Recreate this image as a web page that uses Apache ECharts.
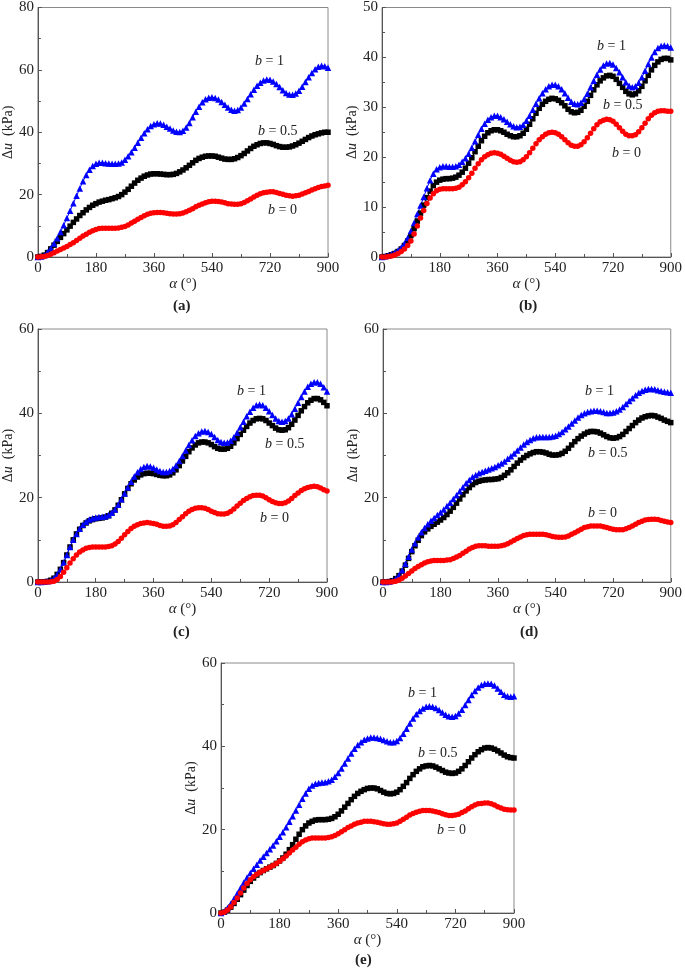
<!DOCTYPE html>
<html>
<head>
<meta charset="utf-8">
<script src="https://cdn.jsdelivr.net/npm/echarts@6/dist/echarts.min.js"></script>
<style>html,body{margin:0;padding:0;background:#fff}#c{width:685px;height:970px}</style>
</head>
<body>
<div id="c"></div>
<script>
const alpha = [0,10,20,30,40,50,60,70,80,90,100,110,120,130,140,150,160,170,180,190,200,210,220,230,240,250,260,270,280,290,300,310,320,330,340,350,360,370,380,390,400,410,420,430,440,450,460,470,480,490,500,510,520,530,540,550,560,570,580,590,600,610,620,630,640,650,660,670,680,690,700,710,720,730,740,750,760,770,780,790,800,810,820,830,840,850,860,870,880,890,900];
const xTicks = [0,180,360,540,720,900];

const aBlue = [0,0.2,0.6,1.5,2.8,4.3,6,8,10.2,12.5,
14.8,17.2,19.6,22,24.3,26.3,28,29.2,29.9,30.2,
30.2,30.1,30,29.9,29.9,30,30.3,31.2,32.3,33.6,
35,36.6,38.2,39.7,41,42,42.6,42.9,42.8,42.4,
41.8,41.2,40.6,40.2,40.1,40.5,41.5,43,44.8,46.6,
48.2,49.6,50.6,51.1,51.2,51,50.5,49.7,48.8,47.9,
47.2,46.9,47.1,47.9,49.2,50.7,52.2,53.6,54.9,55.9,
56.6,56.9,56.8,56.3,55.5,54.5,53.5,52.6,52.1,52,
52.4,53.3,54.6,56.1,57.6,59,60.2,61,61.3,61.2,
60.7];
const aBlack = [0,0.2,0.6,1.4,2.6,3.8,5,6.3,7.5,8.7,
9.9,11.1,12.2,13.3,14.2,15.1,15.9,16.6,17.1,17.6,
17.9,18.2,18.4,18.7,19,19.4,20,20.8,21.7,22.7,
23.7,24.6,25.3,25.9,26.3,26.6,26.7,26.7,26.6,26.5,
26.4,26.4,26.5,26.8,27.3,27.9,28.6,29.4,30.2,31,
31.6,32,32.3,32.4,32.4,32.3,32,31.7,31.4,31.3,
31.3,31.5,31.9,32.5,33.2,34,34.8,35.5,36,36.4,
36.6,36.6,36.4,36.1,35.7,35.4,35.2,35.2,35.3,35.6,
36,36.5,37.1,37.7,38.3,38.8,39.2,39.5,39.8,40,
40];
const aRed = [0,0.05,0.2,0.5,0.9,1.4,1.9,2.4,2.9,3.4,
4,4.6,5.3,6,6.7,7.3,7.9,8.4,8.8,9.1,
9.2,9.2,9.2,9.2,9.2,9.3,9.5,9.8,10.3,10.9,
11.5,12.1,12.7,13.2,13.7,14,14.2,14.3,14.3,14.2,
14,13.9,13.8,13.8,13.9,14.1,14.5,15,15.5,16.1,
16.6,17,17.4,17.7,17.9,17.9,17.8,17.6,17.4,17.1,
17,16.9,16.9,17.1,17.5,18,18.6,19.2,19.8,20.3,
20.6,20.8,20.9,20.9,20.7,20.4,20.1,19.8,19.6,19.5,
19.6,19.8,20.2,20.6,21,21.5,21.9,22.3,22.6,22.8,
23];

const bBlue = [0,0.15,0.35,0.6,0.9,1.3,1.9,2.7,3.8,5.2,
6.8,8.6,10.3,12,13.8,15.4,16.7,17.6,18,18.2,
18.2,18.1,18.1,18.2,18.5,19.1,19.8,20.7,21.9,23.2,
24.5,25.7,26.7,27.5,28,28.3,28.3,28,27.6,27.1,
26.6,26.2,26,26.1,26.5,27.3,28.3,29.5,30.7,31.8,
32.8,33.6,34.2,34.5,34.5,34.2,33.6,32.8,31.9,31.1,
30.7,30.6,30.9,31.6,32.7,34,35.3,36.5,37.6,38.4,
38.8,38.9,38.6,37.9,37,36,35,34.3,34,34.2,
34.9,36,37.3,38.7,40,41.1,41.9,42.3,42.4,42.3,
42];
const bBlack = [0,0.1,0.25,0.45,0.7,1.1,1.6,2.3,3.2,4.3,
5.7,7.2,8.8,10.4,11.9,13.2,14.3,15,15.4,15.6,
15.7,15.7,15.8,16,16.4,17,17.8,18.8,19.9,21.1,
22.2,23.3,24.2,24.9,25.3,25.5,25.5,25.3,25,24.6,
24.3,24.1,24.1,24.3,24.8,25.6,26.6,27.7,28.8,29.8,
30.6,31.2,31.6,31.8,31.7,31.4,30.9,30.3,29.6,29.1,
28.9,29,29.4,30.2,31.2,32.4,33.5,34.5,35.3,35.9,
36.3,36.4,36.2,35.6,34.8,34,33.2,32.7,32.5,32.7,
33.3,34.2,35.3,36.4,37.5,38.4,39.1,39.6,39.8,39.8,
39.5];
const bRed = [0,0.02,0.1,0.2,0.4,0.7,1.1,1.6,2.3,3.2,
4.6,6.2,7.8,9.3,10.7,11.8,12.7,13.3,13.6,13.7,
13.7,13.7,13.7,13.8,14,14.5,15.1,15.9,16.8,17.8,
18.7,19.5,20.1,20.5,20.8,20.9,20.8,20.6,20.2,19.8,
19.4,19.1,19,19.1,19.5,20.1,20.9,21.8,22.7,23.5,
24.1,24.6,24.9,25,24.9,24.6,24.1,23.5,22.9,22.4,
22.2,22.2,22.5,23.1,23.9,24.8,25.7,26.5,27.1,27.4,
27.6,27.5,27.2,26.6,25.9,25.2,24.6,24.3,24.3,24.5,
25.1,25.9,26.8,27.7,28.4,28.9,29.2,29.3,29.3,29.2,
29.2];

const cBlue = [0,0,0.05,0.15,0.4,0.9,1.8,3,4.6,6.4,
8.3,10,11.4,12.6,13.6,14.3,14.8,15.1,15.3,15.4,
15.5,15.6,15.9,16.4,17.2,18.3,19.6,21,22.4,23.8,
25,26,26.8,27.3,27.5,27.4,27.1,26.7,26.3,26.1,
26.1,26.3,26.8,27.6,28.7,29.9,31.2,32.5,33.6,34.6,
35.3,35.7,35.8,35.6,35.1,34.4,33.7,33.2,33,33.1,
33.5,34.3,35.4,36.7,38,39.3,40.4,41.3,41.9,42.1,
41.9,41.3,40.5,39.6,38.8,38.2,38,38.2,38.8,39.8,
41.1,42.5,43.9,45.2,46.3,47,47.4,47.4,47,46.2,
45.2];
const cBlack = [0,0,0.05,0.15,0.4,0.9,1.8,3,4.6,6.4,
8.3,10,11.4,12.5,13.4,14,14.5,14.8,15,15.1,
15.2,15.4,15.7,16.3,17.1,18.2,19.5,20.9,22.2,23.3,
24.2,24.9,25.4,25.7,25.8,25.8,25.7,25.5,25.3,25.2,
25.2,25.4,25.9,26.6,27.6,28.7,29.8,30.9,31.8,32.5,
33,33.2,33.2,33,32.6,32.1,31.7,31.5,31.5,31.7,
32.2,33,34,35,36,36.9,37.7,38.3,38.7,38.8,
38.7,38.3,37.7,37.1,36.5,36.1,36,36.1,36.6,37.4,
38.4,39.5,40.6,41.6,42.5,43.1,43.5,43.5,43.2,42.6,
41.8];
const cRed = [0,0,0,0,0.05,0.2,0.6,1.3,2.3,3.4,
4.5,5.5,6.4,7.1,7.6,8,8.2,8.3,8.3,8.3,
8.3,8.3,8.4,8.6,9,9.6,10.4,11.2,12,12.7,
13.2,13.6,13.9,14,14.1,14,13.9,13.7,13.4,13.2,
13.2,13.3,13.6,14.1,14.8,15.5,16.2,16.8,17.2,17.5,
17.6,17.6,17.5,17.2,16.8,16.5,16.2,16.1,16.1,16.3,
16.7,17.3,18,18.7,19.3,19.8,20.2,20.5,20.6,20.6,
20.4,20,19.5,19.1,18.8,18.6,18.6,18.8,19.2,19.8,
20.5,21.1,21.7,22.1,22.4,22.6,22.7,22.6,22.3,21.9,
21.6];

const dBlue = [0,0,0.1,0.3,0.8,1.6,2.8,4.3,6,7.7,
9.2,10.6,11.8,12.8,13.7,14.5,15.2,15.9,16.5,17.2,
18,18.8,19.7,20.6,21.5,22.5,23.4,24.2,24.9,25.4,
25.8,26.1,26.4,26.7,27,27.3,27.7,28.1,28.6,29.2,
29.8,30.5,31.2,31.9,32.6,33.2,33.7,34.1,34.3,34.4,
34.4,34.4,34.4,34.5,34.7,35.1,35.6,36.2,36.9,37.6,
38.3,39,39.6,40,40.3,40.5,40.6,40.6,40.5,40.3,
40.1,40.1,40.2,40.5,40.9,41.5,42.2,42.9,43.6,44.3,
44.9,45.3,45.6,45.8,45.8,45.7,45.5,45.3,45.1,45,
44.9];
const dBlack = [0,0,0.1,0.3,0.8,1.5,2.6,4,5.6,7.2,
8.6,9.9,11,11.9,12.6,13.2,13.7,14.2,14.7,15.3,
16,16.8,17.7,18.7,19.7,20.7,21.6,22.4,23.1,23.6,
23.9,24.1,24.2,24.3,24.3,24.4,24.5,24.8,25.3,25.9,
26.6,27.4,28.2,28.9,29.5,30,30.4,30.7,30.9,30.9,
30.8,30.6,30.3,30.1,30.1,30.2,30.5,31,31.7,32.5,
33.3,34,34.6,35.1,35.5,35.7,35.7,35.6,35.3,34.9,
34.5,34.2,34.1,34.2,34.5,35,35.7,36.4,37.1,37.8,
38.4,38.9,39.2,39.4,39.5,39.4,39.1,38.8,38.4,38.1,
37.8];
const dRed = [0,0,0,0.05,0.2,0.5,0.9,1.4,2,2.6,
3.2,3.7,4.1,4.5,4.8,5,5.1,5.1,5.1,5.1,
5.2,5.3,5.6,5.9,6.3,6.8,7.3,7.8,8.2,8.5,
8.6,8.6,8.6,8.5,8.5,8.5,8.5,8.6,8.8,9.1,
9.5,9.9,10.3,10.7,11,11.2,11.3,11.3,11.3,11.3,
11.3,11.2,11,10.8,10.7,10.6,10.6,10.7,10.9,11.3,
11.7,12.1,12.5,12.9,13.1,13.3,13.3,13.3,13.3,13.1,
12.9,12.7,12.5,12.4,12.4,12.4,12.6,12.9,13.3,13.7,
14.1,14.4,14.7,14.8,14.9,14.9,14.8,14.6,14.4,14.2,
14.1];

const eBlue = [0,0.4,1.2,2.2,3.4,4.7,6,7.3,8.5,9.6,
10.6,11.6,12.6,13.5,14.4,15.3,16.2,17.2,18.3,19.4,
20.6,21.9,23.2,24.6,26,27.4,28.7,29.8,30.6,31,
31.2,31.3,31.4,31.6,32,32.7,33.6,34.7,35.9,37.1,
38.3,39.4,40.3,41,41.6,41.9,42.1,42.1,42,41.8,
41.5,41.2,41,41,41.3,42,43,44.2,45.5,46.7,
47.7,48.5,49.1,49.5,49.6,49.5,49.2,48.7,48.1,47.6,
47.2,47.1,47.3,47.9,48.8,49.9,51.1,52.3,53.3,54.1,
54.7,55,55.1,55,54.6,53.9,53.1,52.4,52,51.9,
52];
const eBlack = [0,0.2,0.7,1.4,2.3,3.3,4.4,5.5,6.6,7.6,
8.4,9.1,9.7,10.2,10.6,11,11.4,11.9,12.5,13.2,
14.1,15.2,16.4,17.7,18.9,20,20.9,21.6,22,22.3,
22.4,22.4,22.4,22.5,22.7,23.1,23.7,24.5,25.4,26.3,
27.2,28,28.7,29.2,29.6,29.9,30,30,29.8,29.4,
29,28.7,28.6,28.7,29,29.6,30.4,31.3,32.3,33.2,
34,34.6,35.1,35.3,35.4,35.3,35,34.6,34.2,33.8,
33.6,33.5,33.6,34,34.6,35.4,36.3,37.2,38,38.7,
39.2,39.6,39.7,39.6,39.3,38.9,38.4,37.9,37.5,37.3,
37.2];
const eRed = [0,0.2,0.7,1.5,2.5,3.6,4.8,6,7.1,8,
8.7,9.3,9.8,10.2,10.6,11,11.4,11.9,12.4,13,
13.7,14.4,15.1,15.8,16.5,17.1,17.5,17.8,18,18,
18,18,18,18.1,18.3,18.6,19,19.5,20,20.5,
20.9,21.3,21.6,21.8,22,22,22,21.9,21.8,21.6,
21.4,21.3,21.3,21.4,21.6,22,22.5,23,23.5,23.9,
24.2,24.4,24.6,24.6,24.6,24.5,24.3,24.1,23.8,23.6,
23.4,23.4,23.5,23.7,24.1,24.5,25,25.5,25.9,26.2,
26.3,26.4,26.4,26.2,25.9,25.5,25.2,24.9,24.8,24.7,
24.7];

const yMax = [80, 50, 60, 60, 60];
const yStep = [20, 10, 20, 20, 20];
const panelLabels = ['(a)','(b)','(c)','(d)','(e)'];
const seriesNames = ['b = 0.5','b = 1','b = 0'];

const panels = [
  {grid:{left:35, top:6, width:293, height:251}, data:[aBlack,aBlue,aRed], lab:[184,308],
   ann:[[255,62,'1'],[258,132,'0.5'],[268,211,'0']]},
  {grid:{left:382, top:7, width:293, height:250}, data:[bBlack,bBlue,bRed], lab:[530,308],
   ann:[[597,47,'1'],[603,106,'0.5'],[612,154,'0']]},
  {grid:{left:33, top:329, width:294, height:253}, data:[cBlack,cBlue,cRed], lab:[184,634],
   ann:[[237,392,'1'],[265,445,'0.5'],[260,519,'0']]},
  {grid:{left:383, top:329, width:293, height:253}, data:[dBlack,dBlue,dRed], lab:[531,634],
   ann:[[585,392,'1'],[588,454,'0.5'],[588,514,'0']]},
  {grid:{left:221, top:663, width:293, height:250}, data:[eBlack,eBlue,eRed], lab:[366,962],
   ann:[[408,694,'1'],[418,754,'0.5'],[437,831,'0']]}
];

const FONT = 'Liberation Serif, Times New Roman, serif';
const axisCol = '#555';
const styles = [
  {color:'#000000', symbol:'rect', size:5.5},
  {color:'#0000ff', symbol:'triangle', size:6.5},
  {color:'#ff0000', symbol:'circle', size:5.5}
];

const grids = [], xAxes = [], yAxes = [], series = [], graphics = [];
panels.forEach((p, i) => {
  grids.push(Object.assign({show:true, borderColor:'#8a8a8a', borderWidth:1, backgroundColor:'transparent'}, p.grid));
  xAxes.push({
    gridIndex:i, type:'value', min:0, max:900, interval:180,
    axisLine:{show:true, onZero:false, lineStyle:{color:axisCol, width:1}},
    axisTick:{show:true, inside:true, length:4, lineStyle:{color:axisCol}},
    minorTick:{show:true, splitNumber:2, length:3, lineStyle:{color:axisCol}},
    splitLine:{show:false},
    axisLabel:{color:'#222', fontFamily:FONT, fontSize:15, margin:4,
      formatter:(v)=> xTicks.indexOf(v) >= 0 ? String(v) : ''},
    name:'{g|α} (°)', nameLocation:'middle', nameGap:19,
    nameTextStyle:{color:'#222', fontFamily:FONT, fontSize:15, rich:{g:{fontStyle:'italic', fontFamily:FONT, fontSize:15, color:'#222'}}}
  });
  yAxes.push({
    gridIndex:i, type:'value', min:0, max:yMax[i], interval:yStep[i],
    axisLine:{show:true, onZero:false, lineStyle:{color:axisCol, width:1}},
    axisTick:{show:true, inside:true, length:4, lineStyle:{color:axisCol}},
    minorTick:{show:true, splitNumber:2, length:3, lineStyle:{color:axisCol}},
    splitLine:{show:false},
    axisLabel:{color:'#222', fontFamily:FONT, fontSize:15, margin:4},
    name:'Δ{u|u}  (kPa)', nameLocation:'middle', nameGap:22, nameRotate:90,
    nameTextStyle:{color:'#222', fontFamily:FONT, fontSize:14, rich:{u:{fontStyle:'italic', fontFamily:FONT, fontSize:14, color:'#222'}}}
  });
  p.data.forEach((arr, k) => {
    const st = styles[k];
    series.push({
      type:'line', name:seriesNames[k], xAxisIndex:i, yAxisIndex:i,
      data: alpha.map((a, j) => [a, arr[j]]),
      symbol: st.symbol, symbolSize: st.size, showSymbol:true,
      lineStyle:{color:st.color, width:1}, itemStyle:{color:st.color, borderWidth:0},
      emphasis:{disabled:true}, silent:true, animation:false, clip:false
    });
  });
  graphics.push({type:'text', left:p.lab[0]-11, top:p.lab[1]-9,
    style:{text:panelLabels[i], font:'bold 15px ' + FONT, fill:'#222'}});
  p.ann.forEach(a => {
    graphics.push({type:'text', left:a[0], top:a[1]-8,
      style:{text:'{i|b} = ' + a[2], font:'14px ' + FONT, fill:'#222',
        rich:{i:{fontStyle:'italic', fontFamily:FONT, fontSize:14, fill:'#222'}}}});
  });
});

const chart = echarts.init(document.getElementById('c'), null, {renderer:'canvas'});
chart.setOption({
  animation:false,
  backgroundColor:'#ffffff',
  grid:grids, xAxis:xAxes, yAxis:yAxes, series:series, graphic:graphics
});
</script>
</body>
</html>
